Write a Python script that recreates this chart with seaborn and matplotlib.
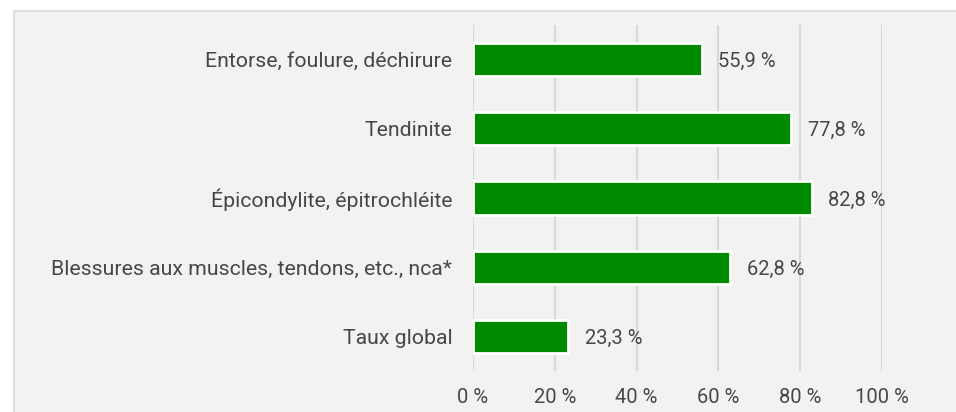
import pandas as pd
import seaborn as sns
import matplotlib.pyplot as plt
from matplotlib.patches import Rectangle

categories = ["Entorse, foulure, déchirure", "Tendinite", "Épicondylite, épitrochléite",
              "Blessures aux muscles, tendons, etc., nca*", "Taux global"]
values = [55.9, 77.8, 82.8, 62.8, 23.3]
ticks = [0, 20, 40, 60, 80, 100]

df = pd.DataFrame({"cat": categories, "val": values})

sns.set_theme(style="white")
plt.rcParams["font.family"] = ["Roboto", "DejaVu Sans"]

fig = plt.figure(figsize=(9.56, 4.12), dpi=100)
fig.patch.set_facecolor("white")
# grey panel behind the chart
fig.patches.append(Rectangle((14 / 956, -0.05), 1.1, 1 - 11 / 412 + 0.05, transform=fig.transFigure,
                             facecolor="#f2f2f2", edgecolor="#dedede", linewidth=1.5, zorder=-10))

ax = fig.add_axes([473 / 956, 1 - 371 / 412, (882 - 473) / 956, (371 - 25) / 412])
ax.set_facecolor("none")
ax.set_zorder(5)

sns.barplot(data=df, x="val", y="cat", orient="h", color="#008a00", saturation=1,
            width=0.48, edgecolor="white", linewidth=2, ax=ax, zorder=3)

for i, v in enumerate(values):
    ax.annotate(f"{v:.1f} %".replace(".", ","), xy=(v, i), xytext=(12, -1.5), textcoords="offset points",
                va="center", ha="left", fontsize=14.5, color="#474747")

ax.set_xlim(0, 100)
ax.set_ylim(4.5, -0.5)
ax.set_xticks(ticks)
ax.set_xticklabels([f"{t} %" for t in ticks])
ax.xaxis.grid(True, color="#d9d9d9", linewidth=1.5, zorder=0)
ax.set_axisbelow(True)
ax.tick_params(axis="x", length=0, pad=12, labelsize=14.5, labelcolor="#474747")
ax.tick_params(axis="y", length=0, pad=15, labelsize=15.3, labelcolor="#474747")
ax.set_xlabel("")
ax.set_ylabel("")
for s in ax.spines.values():
    s.set_visible(False)

plt.savefig("out.png", dpi=100)
